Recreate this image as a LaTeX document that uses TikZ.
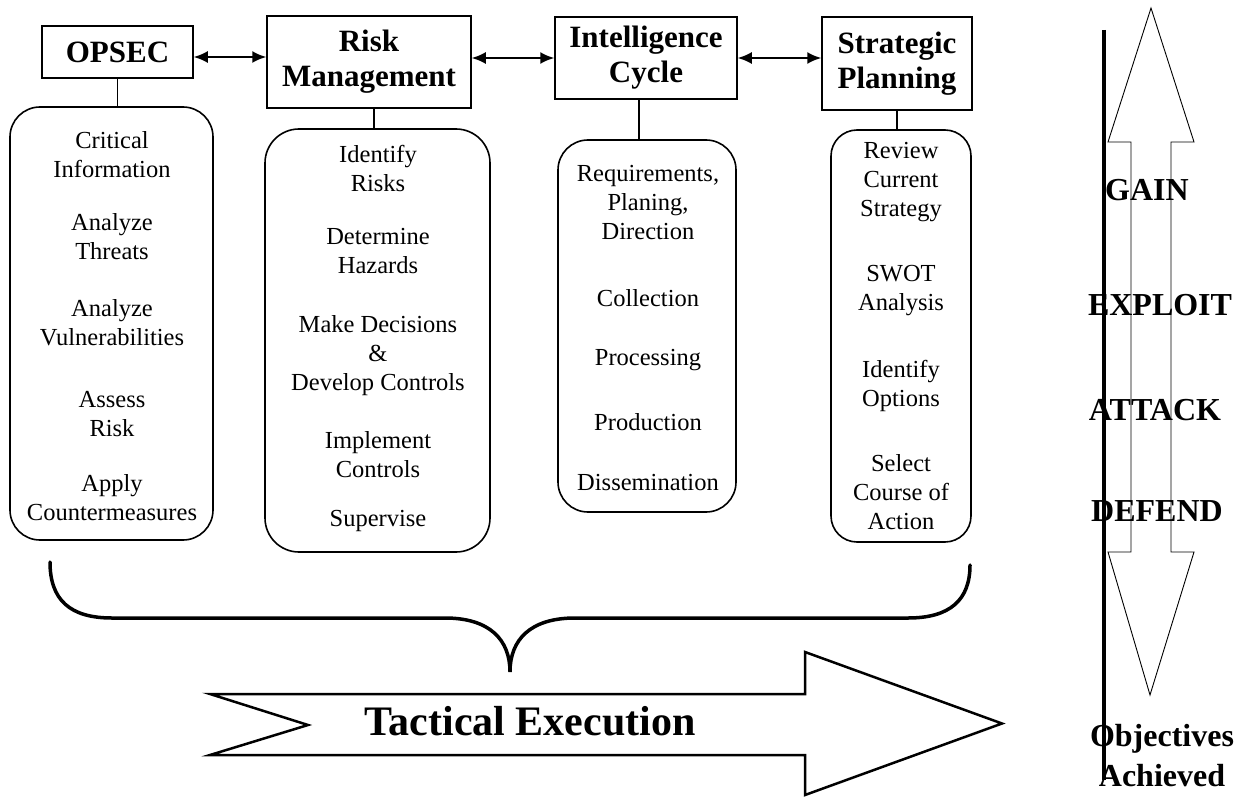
\documentclass[tikz,border=0pt]{standalone}
\usepackage{fontspec}
\setmainfont{Liberation Serif}
\usetikzlibrary{arrows.meta}
\begin{document}
\begin{tikzpicture}[x=1pt,y=-1pt,
  title/.style={draw, line width=1.5pt, font=\fontsize{31}{35}\selectfont\bfseries, align=center, inner sep=0pt},
  rbox/.style={draw, line width=1.6pt, rounded corners=30pt, inner sep=0pt},
  item/.style={font=\fontsize{24.5}{29}\selectfont, align=center, inner sep=0pt},
  side/.style={font=\fontsize{32}{40}\selectfont\bfseries, align=center, inner sep=0pt},
  link/.style={line width=2pt, {Latex[length=14pt,width=12pt]}-{Latex[length=14pt,width=12pt]}},
  stem/.style={line width=1.5pt},
  brace/.style={line width=3.5pt, line cap=round},
  bigarrow/.style={line width=2.5pt, line join=miter},
  thinarrow/.style={line width=0.9pt, line join=miter}]
\path[use as bounding box, fill=white] (0,0) rectangle (1244,797);

% title boxes
\node[title, minimum width=151pt, minimum height=52pt] (opsec) at (117.5,52) {OPSEC};
\node[title, minimum width=204pt, minimum height=92pt] (risk) at (369,62) {Risk\\Management};
\node[title, minimum width=182pt, minimum height=82pt] (intel) at (646,58) {Intelligence\\Cycle};
\node[title, minimum width=150pt, minimum height=93pt] (strat) at (897,63.5) {Strategic\\Planning};

% rounded boxes
\node[rbox, minimum width=203pt, minimum height=433pt] (b1) at (111.5,323.5) {};
\node[rbox, minimum width=225pt, minimum height=423pt, rounded corners=34pt] (b2) at (377.5,340.5) {};
\node[rbox, minimum width=178pt, minimum height=372pt] (b3) at (647,326) {};
\node[rbox, minimum width=140pt, minimum height=412pt, rounded corners=26pt] (b4) at (901,336) {};

% connectors between titles
\coordinate (a1) at ([yshift=-5pt]opsec.east);
\draw[link] (a1) -- (a1 -| risk.west);
\draw[link] (risk.east |- intel.west) -- (intel.west);
\draw[link] (intel.east) -- (intel.east -| strat.west);

% stems
\draw[stem] (opsec.south) -- (opsec.south |- b1.north);
\coordinate (s2) at ([xshift=5pt]risk.south);
\draw[stem] (s2) -- (s2 |- b2.north);
\coordinate (s3) at ([xshift=-7pt]intel.south);
\draw[stem] (s3) -- (s3 |- b3.north);
\draw[stem] (strat.south) -- (strat.south |- b4.north);

% OPSEC items
\node[item] (o1) at (112,155) {Critical\\Information};
\node[item] (o2) at (112,237) {Analyze\\Threats};
\node[item] (o3) at (112,322.5) {Analyze\\Vulnerabilities};
\node[item] (o4) at (112,414) {Assess\\Risk};
\node[item] (o5) at (112,498) {Apply\\Countermeasures};

% Risk items
\node[item] (r1) at (378,168) {Identify\\Risks};
\node[item] (r2) at (378,251) {Determine\\Hazards};
\node[item] (r3) at (378,356) {Make Decisions\\\&\\Develop Controls};
\node[item] (r4) at (378,455) {Implement\\Controls};
\node[item] (r5) at (378,521) {Supervise};

% Intelligence items
\node[item] (i1) at (648,203) {Requirements,\\Planing,\\Direction};
\node[item] (i2) at (648,298) {Collection};
\node[item] (i3) at (648,360) {Processing};
\node[item] (i4) at (648,422) {Production};
\node[item] (i5) at (648,483) {Dissemination};

% Strategic items
\node[item] (p1) at (901,182) {Review\\Current\\Strategy};
\node[item] (p2) at (901,291) {SWOT\\Analysis};
\node[item] (p3) at (901,386) {Identify\\Options};
\node[item] (p4) at (901,492) {Select\\Course of\\Action};

% brace
\draw[brace] (50,562) .. controls (50,600) and (70,618) .. (112,618)
  -- (445,618) .. controls (490,618) and (510,640) .. (510,672)
  .. controls (510,640) and (530,618) .. (575,618)
  -- (908,618) .. controls (950,618) and (970,600) .. (970,565);

% tactical execution arrow
\draw[bigarrow] (210,694) -- (805,694) -- (805,652) -- (1002,723.5) -- (805,795) -- (805,755) -- (210,755) -- (308,725) -- cycle;
\node[font=\fontsize{42}{48}\selectfont\bfseries, inner sep=0pt] (te) at (530,721) {Tactical Execution};

% right side
\draw[line width=4.5pt] (1104,30) -- (1104,780);
\draw[thinarrow] (1151,8) -- (1194,142) -- (1171,142) -- (1171,552) -- (1194,552) -- (1150,695)
  -- (1108,552) -- (1131,552) -- (1131,142) -- (1108,142) -- cycle;
\node[side] (gain) at (1147,190) {GAIN};
\node[side] (exploit) at (1160,305) {EXPLOIT};
\node[side] (attack) at (1155,410) {ATTACK};
\node[side] (defend) at (1157,511) {DEFEND};
\node[side] (obj) at (1162,756) {Objectives\\Achieved};
\end{tikzpicture}
\end{document}
